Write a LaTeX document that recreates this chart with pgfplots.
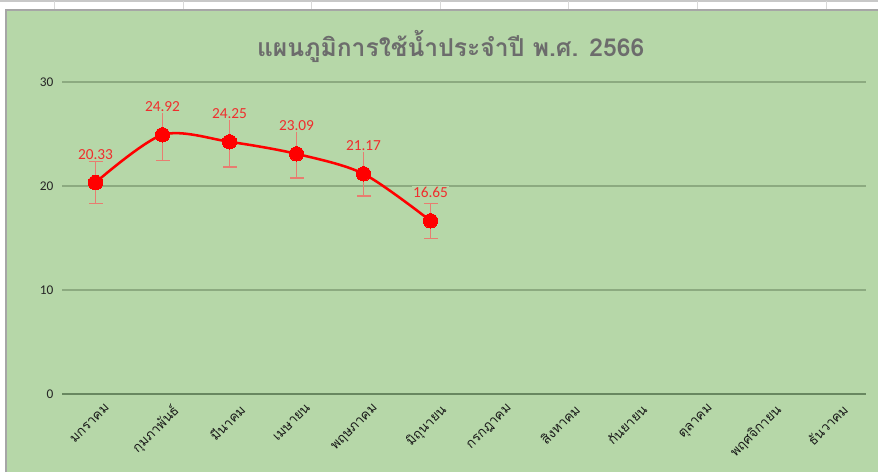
\documentclass[border=0pt]{standalone}
\usepackage{fontspec}
\usepackage{pgfplots}
\usepackage{pgfplotstable}
\pgfplotsset{compat=1.18}
\setmainfont{Carlito}
\newfontfamily\thai[Script=Thai]{Loma}
\definecolor{bggreen}{RGB}{182,215,168}
\definecolor{gridc}{RGB}{140,170,128}
\definecolor{axisc}{RGB}{104,135,96}
\definecolor{titlec}{RGB}{108,108,108}
\definecolor{linered}{RGB}{255,0,0}
\definecolor{labred}{RGB}{240,45,45}
\definecolor{errc}{RGB}{232,125,112}
\definecolor{cellgray}{RGB}{200,200,200}
\pgfplotstableread{
x y err lab
0 20.33 2.03 20.33
1 24.92 2.49 24.92
2 24.25 2.43 24.25
3 23.09 2.31 23.09
4 21.17 2.12 21.17
5 16.65 1.67 16.65
}\datatab
\begin{document}
\begin{tikzpicture}
\useasboundingbox (0pt,0pt) rectangle (658.5pt,354pt);
\fill[white] (0pt,0pt) rectangle (658.5pt,354pt);
\draw[cellgray, line width=1.2pt] (0pt,353.3pt) -- (658.5pt,353.3pt);
\foreach \cx in {40.5,137.25,233.25,330,426,522.75,619.5} \draw[cellgray!70, line width=0.6pt] (\cx pt,353.3pt) -- (\cx pt,346.5pt);
\fill[bggreen] (4.5pt,0pt) rectangle (658.5pt,346.5pt);
\draw[gray!70, line width=0.9pt] (4.5pt,0pt) -- (4.5pt,346.5pt) -- (658.5pt,346.5pt);
\node[font=\thai\bfseries\fontsize{18.5}{22}\selectfont, text=titlec] at (338pt,319pt) {แผนภูมิการใช้น้ำประจำปี พ.ศ. 2566};
\begin{axis}[
  at={(46.5pt,58.5pt)}, anchor=south west,
  scale only axis, width=603pt, height=234pt,
  xmin=-0.5, xmax=11.5, ymin=0, ymax=30,
  axis line style={draw=none},
  xtick={0,...,11},
  xticklabels={มกราคม,กุมภาพันธ์,มีนาคม,เมษายน,พฤษภาคม,มิถุนายน,กรกฎาคม,สิงหาคม,กันยายน,ตุลาคม,พฤศจิกายน,ธันวาคม},
  x tick label style={font=\thai\fontsize{10}{12}\selectfont, rotate=45, anchor=north east, inner sep=0pt, xshift=0pt, yshift=-9.5pt, text=black!90},
  ytick={0,10,20,30},
  y tick label style={font=\fontsize{10}{12}\selectfont, text=black!85, xshift=-3pt},
  /pgf/number format/assume math mode=true,
  major tick length=0pt,
  ymajorgrids, grid style={gridc, line width=0.8pt},
  clip=false,
]
\draw[axisc, line width=2.2pt] (axis cs:-0.5,0) -- (axis cs:11.5,0);
\addplot[errc, line width=1pt, mark=none, draw=none,
  error bars/.cd, y dir=both, y explicit,
  error bar style={errc, line width=1pt},
  error mark options={rotate=90, mark size=5.25pt, line width=1pt, errc}]
  table[x=x, y=y, y error=err] \datatab;
\addplot[linered, line width=1.9pt, smooth, tension=0.5,
  mark=*, mark size=5.4pt, mark options={fill=linered, draw=linered, line width=0pt},
  point meta=explicit symbolic,
  nodes near coords,
  every node near coord/.append style={font=\fontsize{11.5}{13}\selectfont, text=labred, fill=bggreen, inner sep=1pt, anchor=base, yshift=17.5pt}]
  table[x=x, y=y, meta=lab] \datatab;
\end{axis}
\end{tikzpicture}
\end{document}
